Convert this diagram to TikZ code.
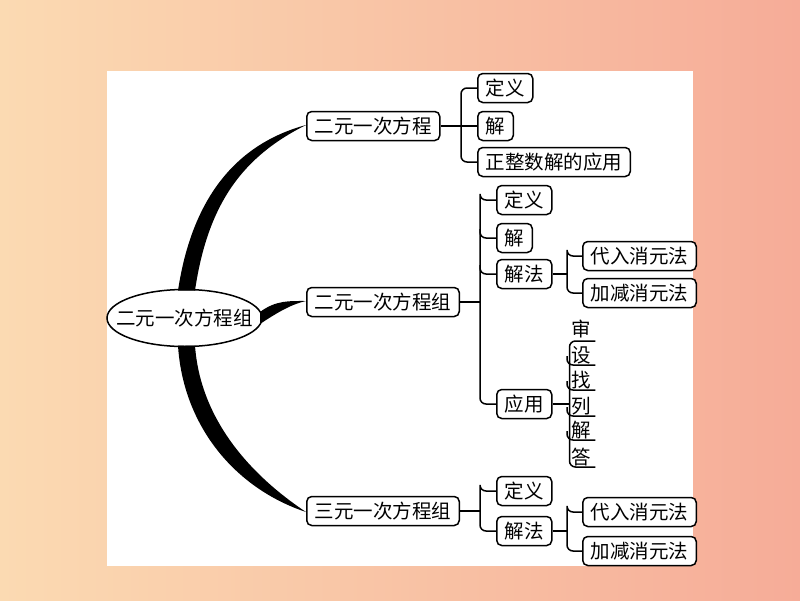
\documentclass[tikz,border=0pt]{standalone}
\usepackage{fontspec}
\newfontfamily\cjk{Noto Sans CJK SC}
\usetikzlibrary{calc}
\definecolor{bgl}{RGB}{251,218,178}
\definecolor{bgr}{RGB}{246,172,152}
\begin{document}
\begin{tikzpicture}[x=1pt, y=-1pt,
    topic/.style={draw, line width=1.5pt, rounded corners=5pt, fill=white,
      minimum height=29pt, inner xsep=8pt, inner ysep=0pt, anchor=west,
      font=\cjk\fontsize{19.5}{20}\selectfont},
    stepword/.style={anchor=south west, minimum width=28pt, inner xsep=0pt,
      inner ysep=1pt, font=\cjk\fontsize{19.5}{20}\selectfont},
    link/.style={line width=1.5pt, rounded corners=6pt}]
    \shade[left color=bgl, right color=bgr] (0,0) rectangle (800,600);
    \fill[white] (107,71) rectangle (693,566);
    \draw[line width=1.5pt, fill=white] (184.5,318) ellipse [x radius=77.5, y radius=28.5];
    \node[inner sep=0pt, font=\cjk\fontsize{19.5}{20}\selectfont] (root) at (184.5,318) {二元一次方程组};
    \coordinate (rootN) at ($(root.center)+(0,-28.5)$);
    \coordinate (rootS) at ($(root.center)+(0,28.5)$);
    \coordinate (rootE) at ($(root.center)+(77.5,0)$);
    \node[topic] (eq1) at (306,126) {二元一次方程};
    \node[topic] (sys2) at (306,302) {二元一次方程组};
    \node[topic] (sys3) at (306,511) {三元一次方程组};
    \fill ($(rootN)+(-6.5,1)$) .. controls (192,198) and (236,144) .. ($(eq1.west)+(0,-1)$)
      .. controls (244,156) and (208,202) .. ($(rootN)+(10.5,1)$) -- cycle;
    \fill ($(rootE)+(-2,-6)$) .. controls (276,300) and (290,301) .. ($(sys2.west)+(0,-1)$)
      .. controls (292,304) and (278,312) .. ($(rootE)+(-2,6)$) -- cycle;
    \fill ($(rootS)+(-6.5,-1)$) .. controls (183,425) and (234,488) .. ($(sys3.west)+(0,1)$)
      .. controls (246,472) and (200,416) .. ($(rootS)+(10.5,-1)$) -- cycle;

    \node[topic] (eqA) at (477,88) {定义};
    \node[topic] (eqB) at (477,126) {解};
    \node[topic] (eqC) at (477,162) {正整数解的应用};
    \draw[link] (eq1.east) -- (eqB.west);
    \draw[link] (eqA.west) -| ($(eqB.west)+(-16,0)$) |- (eqC.west);

    \node[topic] (sA) at (496,200) {定义};
    \node[topic] (sB) at (496,238) {解};
    \node[topic] (sC) at (496,274) {解法};
    \node[topic] (sD) at (496,404) {应用};
    \coordinate (b2) at ($(sA.west)+(-16,0)$);
    \draw[link] (sys2.east) -- (sys2.east -| b2);
    \draw[link] (sA.west) -| (b2) |- (sD.west);
    \draw[link] ($(sB.west)+(-16,-9)$) |- (sB.west);
    \draw[link] ($(sC.west)+(-16,-9)$) |- (sC.west);

    \node[topic] (mA) at (582,256) {代入消元法};
    \node[topic] (mB) at (582,293) {加减消元法};
    \coordinate (b3) at ($(mA.west)+(-15,0)$);
    \draw[link] (sC.east) -- (sC.east -| b3);
    \draw[link] (mA.west) -| (b3) |- (mB.west);

    \node[stepword, inner ysep=3pt] (shen) at (567,341) {审};
    \node[stepword] (she) at (567,365) {设};
    \node[stepword] (zhao) at (567,390) {找};
    \node[stepword] (lie) at (567,416) {列};
    \node[stepword] (jie) at (567,440) {解};
    \node[stepword] (da) at (567,467) {答};
    \coordinate (b4) at ($(sD.east)+(17,0)$);
    \draw[link] (sD.east) -- (b4);
    \draw[link] (shen.south east) -| (b4) |- (da.south east);
    \foreach \w in {she,zhao,lie,jie}
      \draw[link] ($(\w.south west)+(0,-9)$) |- (\w.south east);

    \node[topic] (tA) at (496,491) {定义};
    \node[topic] (tB) at (496,531) {解法};
    \coordinate (b5) at ($(tA.west)+(-16,0)$);
    \draw[link] (sys3.east) -- (sys3.east -| b5);
    \draw[link] (tA.west) -| (b5) |- (tB.west);

    \node[topic] (nA) at (582,512) {代入消元法};
    \node[topic] (nB) at (582,551) {加减消元法};
    \coordinate (b6) at ($(nA.west)+(-15,0)$);
    \draw[link] (tB.east) -- (tB.east -| b6);
    \draw[link] (nA.west) -| (b6) |- (nB.west);
\end{tikzpicture}
\end{document}
